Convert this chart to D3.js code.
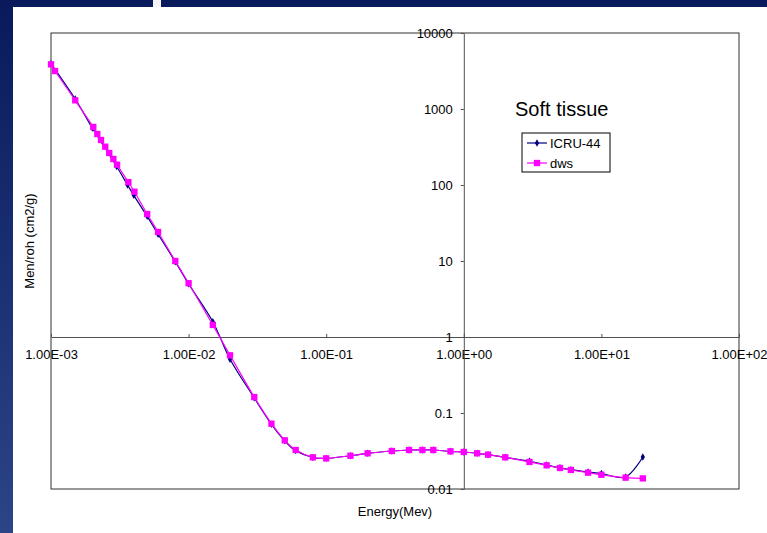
<!DOCTYPE html>
<html>
<head>
<meta charset="utf-8">
<script src="https://cdn.jsdelivr.net/npm/d3@7"></script>
<style>
  body { margin: 0; background: #fff; }
  svg { display: block; font-family: "Liberation Sans", Arial, sans-serif; }
</style>
</head>
<body>
<div id="plot"></div>
<script>
// Energy (MeV) and mass energy-absorption coefficient (cm2/g)
const energyIcru = [0.001, 0.0015, 0.002, 0.003, 0.0036, 0.004, 0.005, 0.006, 0.008, 0.01,
  0.015, 0.02, 0.03, 0.04, 0.05, 0.06, 0.08, 0.1, 0.15, 0.2, 0.3, 0.4, 0.5, 0.6, 0.8,
  1, 1.25, 1.5, 2, 3, 4, 5, 6, 8, 10, 15, 20];
const menIcru = [3950, 1350, 560, 175, 100, 73, 38.7, 22.5, 9.8, 5.0,
  1.59, 0.51, 0.158, 0.071, 0.043, 0.032, 0.026, 0.0253, 0.0274, 0.0295, 0.0316, 0.0326, 0.0326, 0.0326, 0.0313,
  0.0307, 0.0295, 0.0283, 0.0261, 0.0232, 0.0207, 0.0190, 0.0180, 0.0167, 0.0160, 0.0144, 0.0264];

const energyDws = [0.001, 0.00107, 0.0015, 0.00203, 0.00217, 0.00231, 0.00248, 0.00265, 0.00284, 0.00302,
  0.00365, 0.00404, 0.005, 0.006, 0.008, 0.01, 0.015, 0.02, 0.03, 0.04, 0.05, 0.06, 0.08, 0.1,
  0.15, 0.2, 0.3, 0.4, 0.5, 0.6, 0.8, 1, 1.25, 1.5, 2, 3, 4, 5, 6, 8, 10, 15, 20];
const menDws = [3870, 3160, 1300, 580, 469, 391, 319, 264, 220, 185,
  109, 81.6, 41.5, 24.1, 10.0, 5.1, 1.44, 0.574, 0.162, 0.0723, 0.0437, 0.0326, 0.0261, 0.0253,
  0.0274, 0.0295, 0.0316, 0.0326, 0.0326, 0.0326, 0.0313, 0.0307, 0.0295, 0.0283, 0.0261, 0.0227, 0.0205, 0.0189, 0.0178, 0.0164, 0.0154, 0.0141, 0.0138];

const xTicks = [1e-3, 1e-2, 1e-1, 1, 1e1, 1e2];
const xTickLabels = ["1.00E-03", "1.00E-02", "1.00E-01", "1.00E+00", "1.00E+01", "1.00E+02"];
const yTicks = [1e4, 1e3, 1e2, 10, 1, 0.1, 0.01];
const yTickLabels = ["10000", "1000", "100", "10", "1", "0.1", "0.01"];

const seriesNames = ["ICRU-44", "dws"];
const seriesColors = ["#000080", "#ff00ff"];

const W = 767, H = 533;
const plot = {left: 51, right: 739, top: 33, bottom: 489};

const svg = d3.select("#plot").append("svg")
  .attr("width", W).attr("height", H);

// slide background (navy bands)
const grad = svg.append("defs").append("linearGradient")
  .attr("id", "bg").attr("x1", 0).attr("y1", 0).attr("x2", 0).attr("y2", 1);
grad.append("stop").attr("offset", "0%").attr("stop-color", "#081a5c");
grad.append("stop").attr("offset", "100%").attr("stop-color", "#2c4588");
svg.append("rect").attr("width", W).attr("height", H).attr("fill", "url(#bg)");
svg.append("rect").attr("x", 13).attr("y", 7).attr("width", W - 13).attr("height", H - 7).attr("fill", "#fff");
svg.append("rect").attr("x", 153).attr("y", 0).attr("width", 8).attr("height", 7).attr("fill", "#f4f4f4");

// scales
const x = d3.scaleLog().domain([1e-3, 1e2]).range([plot.left, plot.right]);
const y = d3.scaleLog().domain([0.01, 1e4]).range([plot.bottom, plot.top]);

// plot frame
svg.append("rect")
  .attr("x", plot.left).attr("y", plot.top)
  .attr("width", plot.right - plot.left).attr("height", plot.bottom - plot.top)
  .attr("fill", "none").attr("stroke", "#303030").attr("stroke-width", 1);

// x axis crossing at y = 1, ticks pointing up
const xAxis = svg.append("g")
  .attr("transform", `translate(0,${y(1)})`)
  .call(d3.axisBottom(x).tickValues(xTicks)
    .tickFormat((d, i) => xTickLabels[i])
    .tickSizeInner(-3).tickSizeOuter(0).tickPadding(13));

// y axis crossing at x = 1
const yAxis = svg.append("g")
  .attr("transform", `translate(${x(1)},0)`)
  .call(d3.axisLeft(y).tickValues(yTicks)
    .tickFormat((d, i) => yTickLabels[i])
    .tickSizeInner(3).tickSizeOuter(0).tickPadding(8));

[xAxis, yAxis].forEach(g => {
  g.select(".domain").attr("stroke", "#505050");
  g.selectAll(".tick line").attr("stroke", "#505050");
  g.selectAll("text").attr("font-size", 13).attr("fill", "#000")
    .attr("font-family", "Liberation Sans, Arial, sans-serif");
});

// series
const line = d3.line()
  .x(d => x(d[0]))
  .y(d => y(d[1]))
  .curve(d3.curveCatmullRom.alpha(0));

const icru = energyIcru.map((e, i) => [e, menIcru[i]]);
const dws = energyDws.map((e, i) => [e, menDws[i]]);

const diamond = d3.symbol().type(d3.symbolDiamond).size(16);
const square = d3.symbol().type(d3.symbolSquare).size(40);

svg.append("path").datum(icru)
  .attr("d", line).attr("fill", "none")
  .attr("stroke", seriesColors[0]).attr("stroke-width", 1.2);
svg.append("g").selectAll("path").data(icru).join("path")
  .attr("transform", d => `translate(${x(d[0])},${y(d[1])})`)
  .attr("d", diamond).attr("fill", seriesColors[0]);

svg.append("path").datum(dws)
  .attr("d", line).attr("fill", "none")
  .attr("stroke", seriesColors[1]).attr("stroke-width", 1.2);
svg.append("g").selectAll("path").data(dws).join("path")
  .attr("transform", d => `translate(${x(d[0])},${y(d[1])})`)
  .attr("d", square).attr("fill", seriesColors[1]);

// chart title
svg.append("text")
  .attr("x", 515).attr("y", 116)
  .attr("font-size", 20).text("Soft tissue");

// legend
const legend = svg.append("g").attr("transform", "translate(522,133)");
legend.append("rect")
  .attr("width", 88).attr("height", 39)
  .attr("fill", "#fff").attr("stroke", "#000");
seriesNames.forEach((name, i) => {
  const row = legend.append("g").attr("transform", `translate(0,${10 + i * 20})`);
  row.append("line").attr("x1", 5).attr("x2", 25)
    .attr("stroke", seriesColors[i]).attr("stroke-width", 1.2);
  row.append("path").attr("transform", "translate(15,0)")
    .attr("d", i === 0 ? diamond : square).attr("fill", seriesColors[i]);
  row.append("text").attr("x", 28).attr("y", 4.5)
    .attr("font-size", 13).text(name);
});

// axis titles
svg.append("text")
  .attr("x", 395).attr("y", 516)
  .attr("text-anchor", "middle").attr("font-size", 13)
  .text("Energy(Mev)");

svg.append("text")
  .attr("transform", "translate(34,241) rotate(-90)")
  .attr("text-anchor", "middle").attr("font-size", 13)
  .text("Men/roh (cm2/g)");
</script>
</body>
</html>
